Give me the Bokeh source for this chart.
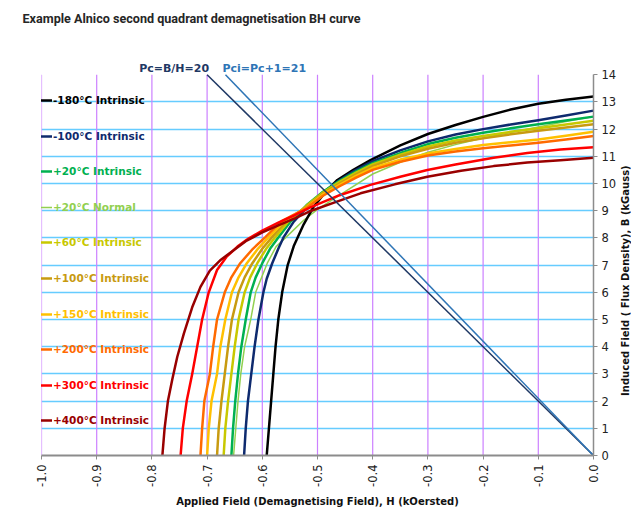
import math
from bokeh.plotting import figure
from bokeh.layouts import row
from bokeh.models import (Legend, LegendItem, FixedTicker, PrintfTickFormatter,
                          Label, Range1d, Title)
from bokeh.embed import file_html
from bokeh.resources import INLINE

# ---------------- data ----------------
title_text = "Example Alnico second quadrant demagnetisation BH curve"
x_title = "Applied Field (Demagnetising Field), H (kOersted)"
y_title = "Induced Field ( Flux Density), B (kGauss)"

x_ticks = [-1.0, -0.9, -0.8, -0.7, -0.6, -0.5, -0.4, -0.3, -0.2, -0.1, 0.0]
y_ticks = [0, 1, 2, 3, 4, 5, 6, 7, 8, 9, 10, 11, 12, 13, 14]
y_top = 14

labels = ["-180°C Intrinsic", "-100°C Intrinsic", "+20°C Intrinsic", "+20°C Normal",
          "+60°C Intrinsic", "+100°C Intrinsic", "+150°C Intrinsic", "+200°C Intrinsic",
          "+300°C Intrinsic", "+400°C Intrinsic"]
colors = ["#000000", "#0e2a6e", "#00b050", "#92d050", "#c8c800", "#c89a10",
          "#ffc000", "#ff6a00", "#ff0000", "#990000"]

h_m180 = [-0.592, -0.588, -0.584, -0.580, -0.576, -0.571, -0.564, -0.554, -0.543, -0.525, -0.507,
          -0.485, -0.464, -0.435, -0.404, -0.35, -0.3, -0.25, -0.2, -0.15, -0.1, -0.05, 0.0]
b_m180 = [0, 1, 2, 3, 4, 5, 6, 7, 7.7, 8.5, 9.15, 9.7, 10.13, 10.5, 10.86, 11.4, 11.82, 12.15,
          12.45, 12.72, 12.93, 13.08, 13.2]

h_m100 = [-0.633, -0.630, -0.626, -0.620, -0.614, -0.607, -0.598, -0.592, -0.582, -0.571, -0.561,
          -0.543, -0.52, -0.495, -0.465, -0.435, -0.4, -0.35, -0.3, -0.25, -0.2, -0.15, -0.1,
          -0.05, 0.0]
b_m100 = [0, 1, 2, 3, 4, 5, 6, 6.5, 7.07, 7.6, 8.04, 8.6, 9.1, 9.6, 10.05, 10.45, 10.82, 11.22,
          11.55, 11.8, 12.0, 12.17, 12.33, 12.5, 12.68]

h_p20 = [-0.656, -0.653, -0.649, -0.644, -0.638, -0.630, -0.621, -0.612, -0.600, -0.586, -0.570,
         -0.548, -0.52, -0.49, -0.46, -0.43, -0.4, -0.35, -0.3, -0.25, -0.2, -0.15, -0.1, -0.05, 0.0]
b_p20 = [0, 1, 2, 3, 4, 5, 6, 6.55, 7.07, 7.6, 8.04, 8.62, 9.2, 9.7, 10.1, 10.45, 10.75, 11.12,
         11.45, 11.68, 11.87, 12.03, 12.18, 12.32, 12.46]

h_p20n = [-0.652, -0.648, -0.644, -0.639, -0.632, -0.621, -0.612, -0.591, -0.575, -0.552, -0.525,
          -0.5, -0.45, -0.4, -0.35, -0.3, -0.25, -0.2, -0.15, -0.1, -0.05, 0.0]
b_p20n = [0, 1, 2, 3, 4, 5, 6, 7.07, 7.68, 8.12, 8.65, 9.05, 9.7, 10.35, 10.78, 11.15, 11.43,
          11.67, 11.88, 12.08, 12.28, 12.46]

h_p60 = [-0.670, -0.667, -0.662, -0.656, -0.650, -0.643, -0.632, -0.622, -0.609, -0.593, -0.576,
         -0.552, -0.52, -0.49, -0.46, -0.43, -0.4, -0.35, -0.3, -0.25, -0.2, -0.15, -0.1, -0.05, 0.0]
b_p60 = [0, 1, 2, 3, 4, 5, 6, 6.55, 7.07, 7.6, 8.04, 8.62, 9.18, 9.67, 10.06, 10.4, 10.7, 11.06,
         11.36, 11.58, 11.75, 11.9, 12.03, 12.17, 12.31]

h_p100 = [-0.682, -0.679, -0.674, -0.668, -0.662, -0.655, -0.643, -0.632, -0.618, -0.600, -0.582,
          -0.556, -0.52, -0.49, -0.46, -0.43, -0.4, -0.35, -0.3, -0.25, -0.2, -0.15, -0.1, -0.05,
          0.0]
b_p100 = [0, 1, 2, 3, 4, 5, 6, 6.55, 7.07, 7.6, 8.04, 8.62, 9.15, 9.63, 10.0, 10.34, 10.64, 11.0,
          11.28, 11.5, 11.66, 11.81, 11.94, 12.06, 12.18]

h_p150 = [-0.700, -0.697, -0.692, -0.682, -0.676, -0.667, -0.655, -0.643, -0.628, -0.608, -0.588,
          -0.560, -0.52, -0.49, -0.46, -0.43, -0.4, -0.35, -0.3, -0.25, -0.2, -0.15, -0.1, -0.05,
          0.0]
b_p150 = [0, 1, 2, 3, 4, 5, 6, 6.55, 7.07, 7.6, 8.04, 8.62, 9.12, 9.6, 9.95, 10.28, 10.57, 10.88,
          11.1, 11.27, 11.42, 11.52, 11.62, 11.76, 11.9]

h_p200 = [-0.712, -0.709, -0.705, -0.695, -0.689, -0.682, -0.668, -0.656, -0.640, -0.617, -0.594,
          -0.565, -0.52, -0.49, -0.46, -0.43, -0.4, -0.35, -0.3, -0.25, -0.2, -0.15, -0.1, -0.05,
          0.0]
b_p200 = [0, 1, 2, 3, 4, 5, 6, 6.55, 7.07, 7.6, 8.04, 8.62, 9.1, 9.55, 9.9, 10.22, 10.5, 10.8,
          11.03, 11.18, 11.3, 11.4, 11.5, 11.62, 11.75]

h_p300 = [-0.748, -0.744, -0.737, -0.727, -0.718, -0.709, -0.697, -0.682, -0.665, -0.645, -0.625,
          -0.6, -0.57, -0.54, -0.513, -0.46, -0.404, -0.35, -0.301, -0.25, -0.181, -0.12, -0.06,
          0.0]
b_p300 = [0, 1, 2, 3, 4, 5, 6, 6.82, 7.3, 7.68, 7.98, 8.27, 8.57, 8.85, 9.12, 9.57, 9.95, 10.25,
          10.5, 10.7, 10.95, 11.12, 11.25, 11.33]

h_p400 = [-0.781, -0.777, -0.771, -0.763, -0.754, -0.742, -0.727, -0.712, -0.695, -0.675, -0.655,
          -0.63, -0.6, -0.57, -0.54, -0.515, -0.47, -0.422, -0.36, -0.301, -0.24, -0.181, -0.12,
          -0.06, 0.0]
b_p400 = [0, 1, 2, 2.8, 3.63, 4.49, 5.45, 6.2, 6.8, 7.2, 7.5, 7.88, 8.2, 8.47, 8.73, 8.97, 9.3,
          9.64, 9.97, 10.25, 10.47, 10.64, 10.77, 10.86, 10.95]

# load lines B = -P * H
pc_h = [-0.7, 0.0]
pc_b = [14, 0]
pci_h = [-0.6667, 0.0]
pci_b = [14, 0]
pc_label = "Pc=B/H=20"
pci_label = "Pci=Pc+1=21"

series_h = [h_m180, h_m100, h_p20, h_p20n, h_p60, h_p100, h_p150, h_p200, h_p300, h_p400]
series_b = [b_m180, b_m100, b_p20, b_p20n, b_p60, b_p100, b_p150, b_p200, b_p300, b_p400]
widths = [2.5, 2.5, 2.5, 1.5, 2.5, 2.5, 2.5, 2.5, 2.5, 2.5]

y_title_pos = 6.43   # vertical centre of the y-axis title, in B units

# ---------------- figure ----------------
FRAME_W, FRAME_H = 552, 396
Y_END = 14.56
TOP, BOTTOM = 59, 58
p = figure(frame_width=FRAME_W, frame_height=FRAME_H,
           x_range=Range1d(-1.0, 0.0), y_range=Range1d(0, Y_END),
           y_axis_location="right", output_backend="svg", toolbar_location=None,
           min_border_left=41, min_border_top=TOP, min_border_bottom=BOTTOM, min_border_right=20,
           background_fill_color="white", border_fill_color="white")
p.outline_line_color = None

# spacer row between the frame and the title (pushes the title to the top)
p.add_layout(Title(text=" ", text_font_size="26px", standoff=0), "above")

p.title.text = title_text
p.title.text_font = "Roboto"
p.title.text_font_size = "12.6px"
p.title.text_font_style = "bold"
p.title.text_color = "#262626"
p.title.align = "left"
p.title.vertical_align = "top"
p.title.offset = -19
p.title.standoff = 0

# grids: horizontal from the grid, vertical as segments limited to the axis span
p.xgrid.grid_line_color = None
p.ygrid.ticker = FixedTicker(ticks=y_ticks[1:-1])
p.ygrid.grid_line_color = "#66ccff"
p.ygrid.grid_line_width = 1.5
vx = x_ticks[:-1]
p.segment(x0=vx, y0=[y_ticks[0]] * len(vx), x1=vx, y1=[y_top] * len(vx),
          line_color="#cc80ff", line_width=1.2)

# axes
xa = p.xaxis[0]
xa.ticker = FixedTicker(ticks=x_ticks)
xa.formatter = PrintfTickFormatter(format="%.1f")
xa.major_label_orientation = math.pi / 2
xa.axis_line_color = "#8c8c8c"
xa.axis_line_width = 2
xa.major_tick_line_color = "#8c8c8c"
xa.major_tick_out = 4
xa.major_tick_in = 0
xa.minor_tick_line_color = None
xa.major_label_text_font = "DejaVu Sans"
xa.major_label_text_font_size = "11.5px"
xa.major_label_text_color = "#222222"
xa.major_label_standoff = 5
xa.axis_label = x_title
xa.axis_label_text_font = "DejaVu Sans"
xa.axis_label_text_font_style = "bold"
xa.axis_label_text_font_size = "10px"
xa.axis_label_text_color = "#111111"
xa.axis_label_standoff = 6

ya = p.yaxis[0]
ya.ticker = FixedTicker(ticks=y_ticks)
ya.bounds = (y_ticks[0], y_top)
ya.axis_line_color = "#8c8c8c"
ya.axis_line_width = 1.5
ya.major_tick_line_color = "#8c8c8c"
ya.major_tick_out = 4
ya.major_tick_in = 0
ya.minor_tick_line_color = None
ya.major_label_text_font = "DejaVu Sans"
ya.major_label_text_font_size = "11.5px"
ya.major_label_text_color = "#222222"
ya.major_label_standoff = 4

# curves
order = [3, 0, 1, 2, 4, 5, 6, 7, 8, 9]
rmap = {}
for i in order:
    r = p.line(series_h[i], series_b[i], line_color=colors[i], line_width=widths[i],
               line_join="round", line_cap="round")
    rmap[i] = r

# load lines
p.line(pc_h, pc_b, line_color="#1f3864", line_width=1.5)
p.line(pci_h, pci_b, line_color="#2e75b6", line_width=1.5)

p.add_layout(Label(x=pc_h[0], y=pc_b[0], text=pc_label, text_align="right",
                   text_baseline="bottom", y_offset=0, x_offset=2,
                   text_font="DejaVu Sans", text_font_style="bold", text_font_size="11px",
                   text_color="#1f3864"))
p.add_layout(Label(x=pci_h[0], y=pci_b[0], text=pci_label, text_align="left",
                   text_baseline="bottom", y_offset=0, x_offset=-3,
                   text_font="DejaVu Sans", text_font_style="bold", text_font_size="11px",
                   text_color="#2e75b6"))

# legends, one per entry so each label keeps its own colour
for i, lab in enumerate(labels):
    cy = 41 + 35.6 * i          # distance of the entry centre below the frame top
    leg = Legend(items=[LegendItem(label=lab, renderers=[rmap[i]])],
                 location=(-8, FRAME_H - cy - 6), orientation="vertical",
                 padding=0, margin=0, spacing=0, glyph_width=19, glyph_height=12,
                 label_height=12, label_standoff=1, label_text_color=colors[i],
                 label_text_font="DejaVu Sans", label_text_font_style="bold",
                 label_text_font_size="10.5px", label_text_baseline="middle",
                 background_fill_alpha=0, border_line_alpha=0, click_policy="none")
    p.add_layout(leg)

# narrow strip on the right carrying the y-axis title (reads bottom to top)
p2 = figure(frame_width=12, frame_height=FRAME_H, x_range=Range1d(0, 1), y_range=p.y_range,
            x_axis_location=None, y_axis_location=None, toolbar_location=None,
            output_backend="svg", min_border_left=0, min_border_right=0,
            min_border_top=TOP, min_border_bottom=BOTTOM,
            background_fill_color="white", border_fill_color="white")
p2.outline_line_color = None
p2.grid.visible = False
p2.add_layout(Label(x=0.5, y=y_title_pos, text=y_title, angle=math.pi / 2,
                    text_align="center", text_baseline="middle",
                    text_font="DejaVu Sans", text_font_style="bold", text_font_size="10px",
                    text_color="#111111"))

layout = row(p, p2)
open("out.html", "w").write(file_html(layout, INLINE))
